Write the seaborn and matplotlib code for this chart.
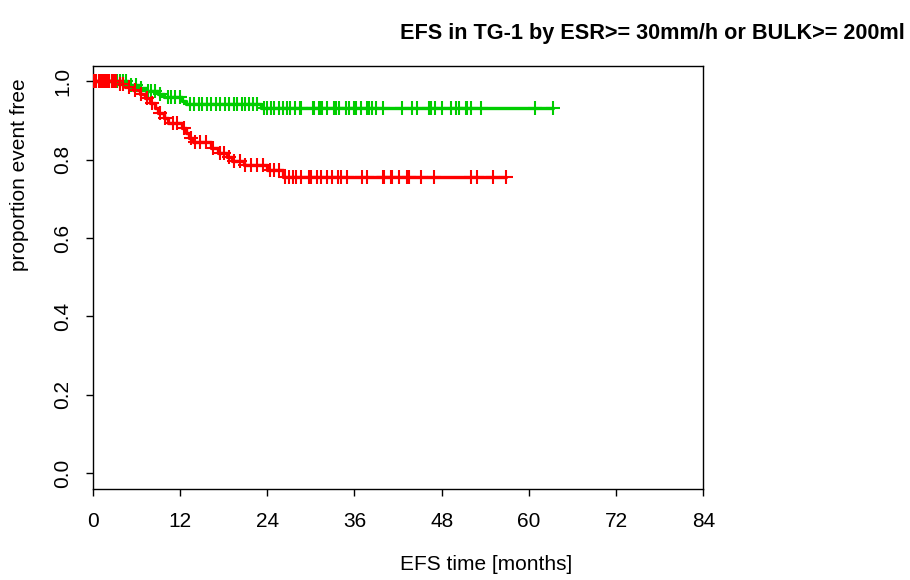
import numpy as np
import pandas as pd
import matplotlib
matplotlib.use("Agg")
import matplotlib.pyplot as plt
import seaborn as sns

# Kaplan-Meier step levels (time in months, proportion event free)
low_risk_times = [0.0, 4.9, 6.3, 7.3, 9.0, 9.8, 12.3, 12.8, 23.2]
low_risk_surv = [1.0, 0.992, 0.984, 0.975, 0.967, 0.959, 0.950, 0.941, 0.931]
low_risk_censored = [
    1.7, 2.2, 2.6, 3.0, 3.4, 3.8, 4.2, 4.6, 5.3, 5.9, 6.6, 7.6, 8.0, 8.6,
    9.3, 10.3, 10.8, 11.3, 12.0, 13.4, 14.0, 14.6, 15.1, 15.7, 16.3, 16.9,
    17.5, 18.2, 18.8, 19.4, 19.9, 20.5, 21.0, 21.5, 22.0, 22.6, 23.6, 24.0,
    24.5, 25.0, 25.6, 26.2, 26.7, 27.2, 27.8, 28.5, 28.7, 30.3, 30.5, 31.1,
    31.3, 31.5, 32.2, 33.2, 33.4, 33.9, 34.9, 35.2, 35.9, 36.2, 36.9, 37.7,
    38.0, 38.4, 39.0, 39.9, 42.5, 43.9, 44.6, 46.2, 46.5, 47.1, 48.1, 49.3,
    50.0, 50.4, 51.3, 51.5, 52.1, 53.4, 60.9, 63.3,
]

high_risk_times = [0.0, 3.4, 4.4, 5.6, 6.5, 7.2, 7.9, 8.5, 9.0, 9.8, 10.4,
                   12.3, 12.8, 13.3, 13.8, 16.3, 17.2, 18.5, 19.2, 20.8,
                   24.0, 26.2]
high_risk_surv = [1.0, 0.993, 0.985, 0.977, 0.968, 0.958, 0.946, 0.933,
                  0.920, 0.907, 0.895, 0.882, 0.868, 0.856, 0.844, 0.831,
                  0.818, 0.806, 0.796, 0.787, 0.775, 0.757]
high_risk_censored = [
    0.2, 0.5, 0.8, 1.1, 1.4, 1.7, 2.0, 2.3, 2.6, 2.9, 3.2, 3.7, 4.2, 5.0,
    5.8, 6.7, 7.5, 8.2, 9.3, 10.0, 11.0, 11.6, 12.6, 13.5, 14.1, 14.8, 15.6,
    16.6, 17.5, 18.0, 18.8, 19.5, 20.2, 21.0, 21.8, 22.6, 23.4, 24.4, 25.0,
    25.6, 26.5, 27.0, 27.5, 28.0, 28.65, 29.8, 30.0, 30.8, 31.4, 32.2, 32.9,
    33.8, 34.1, 35.0, 37.1, 37.7, 39.9, 40.1, 41.0, 41.2, 42.1, 43.3, 43.5,
    45.2, 47.0, 52.0, 52.9, 55.1, 56.8,
]

x_ticks = [0, 12, 24, 36, 48, 60, 72, 84]
y_ticks = [0.0, 0.2, 0.4, 0.6, 0.8, 1.0]

GREEN = "#00CD00"
RED = "#FF0000"

sns.set_theme(style="white")
plt.rcParams["font.family"] = ["Liberation Sans", "DejaVu Sans"]

fig = plt.figure(figsize=(9.1, 5.8), dpi=100)
ax = fig.add_axes([0.1019, 0.1574, 0.6710, 0.7293])


def km_frames(times, surv, censored):
    # extend the curve to the last follow-up time
    t = list(times) + [max(censored)]
    s = list(surv) + [surv[-1]]
    curve = pd.DataFrame({"time": t, "surv": s})
    idx = np.searchsorted(np.array(times), np.array(censored), side="right") - 1
    marks = pd.DataFrame({"time": censored, "surv": np.array(surv)[idx]})
    return curve, marks


for times, surv, cens, col in [
    (low_risk_times, low_risk_surv, low_risk_censored, GREEN),
    (high_risk_times, high_risk_surv, high_risk_censored, RED),
]:
    curve, marks = km_frames(times, surv, cens)
    sns.lineplot(data=curve, x="time", y="surv", drawstyle="steps-post",
                 color=col, linewidth=2.4, ax=ax, estimator=None, sort=False)
    sns.scatterplot(data=marks, x="time", y="surv", marker="+", s=100,
                    linewidth=1.5, color=col, ax=ax, zorder=3)

ax.set_xlim(0, 84)
ax.set_ylim(-0.04, 1.04)
ax.set_xticks(x_ticks)
ax.set_xticklabels([str(v) for v in x_ticks])
ax.set_yticks(y_ticks)
ax.set_yticklabels([f"{v:.1f}" for v in y_ticks])
ax.set_xlabel("")
ax.set_ylabel("")

for sp in ax.spines.values():
    sp.set_color("black")
    sp.set_linewidth(1.0)

ax.tick_params(axis="both", which="major", direction="out", length=5,
               width=1.0, color="black", labelsize=15, labelcolor="black",
               bottom=True, left=True)
ax.tick_params(axis="x", pad=12)
ax.tick_params(axis="y", pad=10)
for lab in ax.get_yticklabels():
    lab.set_rotation(90)
    lab.set_va("center")

fig.text(905 / 910, 1 - 33 / 580, "EFS in TG-1 by ESR>= 30mm/h or BULK>= 200ml",
         ha="right", va="center", fontsize=15.6, fontweight="bold", color="black")
fig.text(486 / 910, 1 - 565 / 580, "EFS time [months]", ha="center",
         va="center", fontsize=15, color="black")
fig.text(20 / 910, 1 - 175 / 580, "proportion event free", ha="center",
         va="center", rotation=90, fontsize=15, color="black")

fig.savefig("out.png", dpi=100)
